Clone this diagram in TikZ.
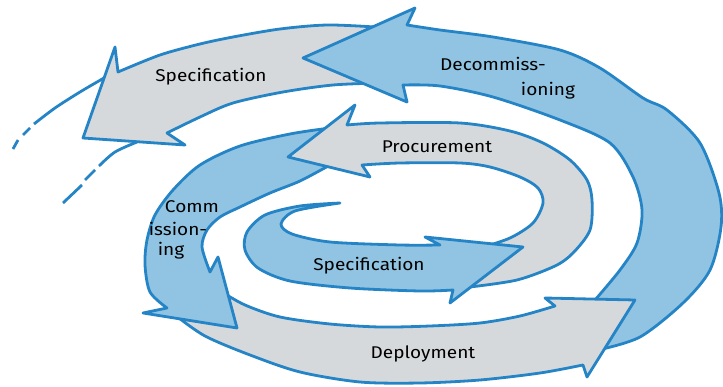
\documentclass[tikz,border=0pt]{standalone}
\usepackage{fontspec}
\setmainfont{Fira Sans}[FakeStretch=1.12]
\definecolor{bline}{RGB}{36,132,198}
\definecolor{bfill}{RGB}{145,196,226}
\definecolor{gfill}{RGB}{214,217,219}
\begin{document}
\begin{tikzpicture}[x=1pt,y=-1pt,
  band/.style={draw=bline, line width=2.8pt, line join=round},
  blueband/.style={band, fill=bfill},
  grayband/.style={band, fill=gfill},
  thin/.style={draw=bline, line width=2.8pt},
  lbl/.style={font=\fontsize{17}{19}\selectfont, text=black, inner sep=0pt}]
\useasboundingbox (0,0) rectangle (723,387);

% outer dashed continuation lines
\path[thin] plot[smooth] coordinates {(104,78) (80,92) (55,108) (34,124)};
\path[thin] (30,128) -- (23,135);
\path[thin] (18,140) -- (13,149);
\path[thin] plot[smooth] coordinates {(137,142) (115,152) (99,166)};
\path[thin] (95,170) -- (85,180);
\path[thin] (82,185) -- (63,203);

% 1 outer Specification (gray)
\path[grayband] plot[smooth] coordinates {(118,72) (160,55) (200,44) (233,37) (280,29) (327,25) (375,27)}
  -- (392,55)
  -- plot[smooth] coordinates {(380,83) (333,85) (283,92) (233,103) (200,117) (167,133)}
  -- (185,145) -- (83,138) -- (115,47) -- cycle;

% 2 Decommissioning (blue)
\path[blueband] plot[smooth] coordinates {(403,85) (440,86) (493,97) (560,120) (610,143) (633,177) (642,210) (637,243) (620,270) (595,300)}
  -- (596,330)
  -- plot[smooth] coordinates {(598,350) (640,337) (683,303) (710,270) (721,227) (719,193) (700,143) (667,110) (643,98) (600,68) (560,50) (493,37) (440,30) (407,25)}
  -- (415,8) -- (303,58) -- (407,102) -- cycle;

% 3 Deployment (gray)
\path[grayband] plot[smooth] coordinates {(222,292) (245,305) (280,317) (330,324) (380,327) (430,326) (480,323) (520,316) (555,306)}
  -- (545,298) -- (635,300) -- (587,377) -- (583,365)
  -- plot[smooth] coordinates {(583,365) (540,373) (480,380) (420,383) (360,382) (300,372) (250,355) (205,336) (175,315)}
  -- (195,300) -- cycle;

% 4 Commissioning (blue)
\path[blueband] plot[smooth] coordinates {(330,165) (300,181) (270,193) (240,207) (220,217) (207,230) (202,247) (210,272)}
  -- (218,257) -- (237,328) -- (143,313) -- (167,308)
  -- plot[smooth] coordinates {(167,308) (150,292) (145,265) (147,240) (155,215) (173,190) (200,165) (240,146) (290,134) (330,128)}
  -- (338,145) -- cycle;

% 5 Procurement (gray)
\path[grayband] plot[smooth] coordinates {(480,248) (510,238) (533,223) (543,203) (538,188) (520,177) (490,167) (460,163) (400,163) (362,165)}
  -- (370,177) -- (288,157) -- (355,105) -- (347,125)
  -- plot[smooth] coordinates {(347,125) (380,123) (460,123) (510,131) (543,143) (570,160) (587,180) (592,200) (590,230) (573,253) (555,266) (517,280) (470,287)}
  -- (470,265) -- cycle;

% 6 inner Specification (blue)
\path[blueband] plot[smooth] coordinates {(340,203) (300,206) (265,215) (247,232) (245,250) (258,268) (290,281) (350,288) (420,291) (453,290)}
  -- (450,303) -- (523,247) -- (425,237) -- (440,245)
  -- plot[smooth] coordinates {(440,245) (400,245) (330,242) (292,234) (281,224) (295,211) (340,203)}
  -- cycle;

% labels
\node[lbl] (l1) at (211,77) {Specification};
\node[lbl] (l2) at (493,64) {Decommiss-};
\node[lbl] (l3) at (548,91) {ioning};
\node[lbl] (l4) at (437,147) {Procurement};
\node[lbl] (l5) at (192,207) {Comm};
\node[lbl] (l6) at (178,229) {ission-};
\node[lbl] (l7) at (171,251) {ing};
\node[lbl] (l8) at (369,266) {Specification};
\node[lbl] (l9) at (423,354) {Deployment};
\end{tikzpicture}
\end{document}
